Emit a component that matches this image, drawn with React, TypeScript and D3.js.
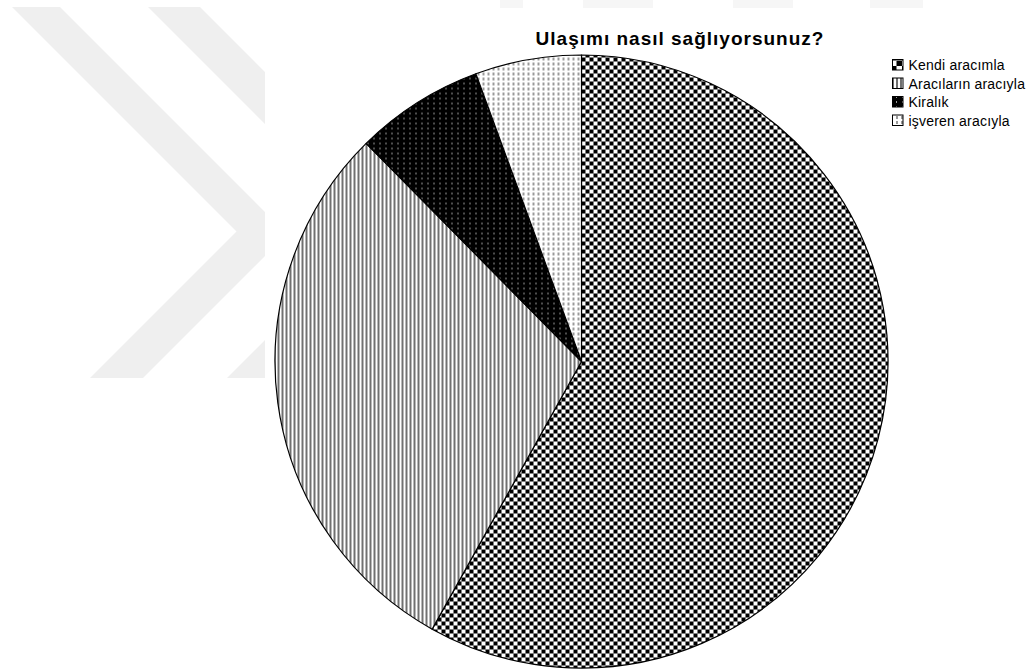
import React from "react";
import * as d3 from "d3";

const title = "Ulaşımı nasıl sağlıyorsunuz?";
const categories = ["Kendi aracımla", "Aracıların aracıyla", "Kiralık", "işveren aracıyla"];
const values = [58.1, 29.5, 6.8, 5.6];
const patternIds = ["pKendi", "pAraci", "pKira", "pIsv"];
const swatchIds = ["sKendi", "pAraci", "pKira", "pIsv"];

const W = 1028;
const H = 672;
const cx = 581.5;
const cy = 361.5;
const R = 306.5;

export default function App() {
  const pie = d3.pie<number>().sort(null).value((d) => d)(values);
  const arc = d3.arc<d3.PieArcDatum<number>>().innerRadius(0).outerRadius(R);
  const legendY = d3.scaleBand<string>().domain(categories).range([58, 132]);

  const chevron1 = "M12,7 L60,7 L287,234 L143,378 L90,378 L236.5,231.5 Z";
  const chevron2 = "M148,7 L200,7 L425,232 L279,378 L227,378 L373,232 Z";

  return (
    <svg
      width={W}
      height={H}
      style={{ position: "absolute", left: 0, top: 0, background: "#fff" }}
      fontFamily="'Liberation Sans', Arial, sans-serif"
    >
      <defs>
        <clipPath id="wm">
          <rect x={0} y={7} width={265} height={371} />
        </clipPath>
        <pattern id="pKendi" patternUnits="userSpaceOnUse" width={8} height={8}>
          <rect width={8} height={8} fill="#fff" />
          <rect x={0} y={0} width={4} height={4} fill="#000" />
          <rect x={4} y={4} width={4} height={4} fill="#000" />
        </pattern>
        <pattern id="sKendi" patternUnits="userSpaceOnUse" width={11} height={11}>
          <rect width={11} height={11} fill="#fff" />
          <rect x={0} y={0} width={5.5} height={5.5} fill="#000" />
          <rect x={5.5} y={5.5} width={5.5} height={5.5} fill="#000" />
        </pattern>
        <pattern id="pAraci" patternUnits="userSpaceOnUse" width={4} height={4}>
          <rect width={4} height={4} fill="#fff" />
          <rect x={0} y={0} width={2} height={4} fill="#707070" />
        </pattern>
        <pattern id="pKira" patternUnits="userSpaceOnUse" width={6} height={5}>
          <rect width={6} height={5} fill="#000" />
          <rect x={2} y={1} width={1} height={2} fill="#9a9a9a" />
        </pattern>
        <pattern id="pIsv" patternUnits="userSpaceOnUse" width={5} height={5}>
          <rect width={5} height={5} fill="#fff" />
          <rect x={1} y={1} width={2} height={3} fill="#9a9a9a" />
        </pattern>
      </defs>

      {/* background watermark */}
      <g clipPath="url(#wm)" fill="#efefef">
        <path d={chevron1} />
        <path d={chevron2} />
      </g>
      <g fill="#f6f6f6">
        <rect x={500} y={0} width={23} height={8} />
        <rect x={583} y={0} width={70} height={8} />
        <rect x={733} y={0} width={60} height={8} />
        <rect x={870} y={0} width={53} height={8} />
      </g>

      <text x={680} y={45} textAnchor="middle" fontWeight="bold" fontSize={19} letterSpacing={1} fill="#000">
        {title}
      </text>

      <g transform={`translate(${cx},${cy})`}>
        {pie.map((d, i) => (
          <path
            key={categories[i]}
            d={arc(d) || ""}
            fill={`url(#${patternIds[i]})`}
            stroke="#000"
            strokeWidth={1.2}
            strokeLinejoin="round"
          />
        ))}
      </g>

      <g>
        {categories.map((c, i) => {
          const y = legendY(c)! + 1;
          return (
            <g key={c}>
              <rect
                x={892.5}
                y={y + 0.5}
                width={10.5}
                height={10.5}
                fill={`url(#${swatchIds[i]})`}
                stroke="#000"
                strokeWidth={1}
              />
              <text x={908.5} y={y + 11} fontSize={14} letterSpacing={0.2} fill="#000">
                {c}
              </text>
            </g>
          );
        })}
      </g>
    </svg>
  );
}
